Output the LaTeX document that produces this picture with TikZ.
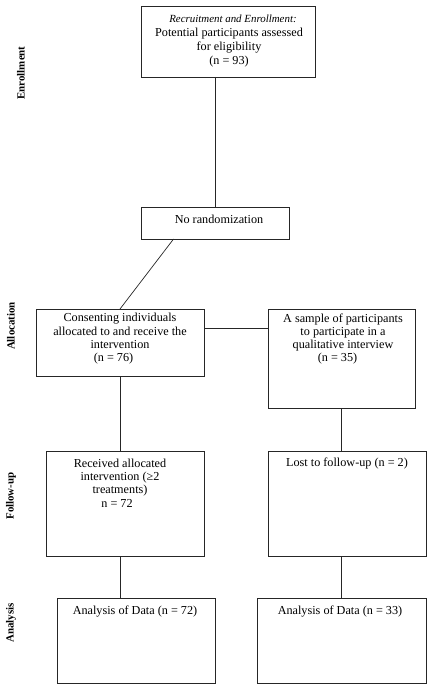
\documentclass[tikz,border=0pt]{standalone}
\usepackage{fontspec}
\setmainfont{Liberation Serif}
\usetikzlibrary{calc}
\tikzset{
  box/.style={draw=black!85, line width=0.7pt, rectangle, inner sep=0pt, outer sep=0pt, anchor=north west},
  txt/.style={align=center, inner sep=0pt, font=\fontsize{12.2}{13.3}\selectfont},
  itxt/.style={inner sep=0pt, font=\fontsize{10.9}{13}\selectfont\itshape},
  side/.style={rotate=90, inner sep=0pt, font=\fontsize{10.9}{13}\selectfont\bfseries},
  conn/.style={draw=black!85, line width=0.7pt}
}
\begin{document}
\begin{tikzpicture}[x=1pt,y=-1pt]
\useasboundingbox (0,0) rectangle (433,690);
% boxes
\node[box, minimum width=174pt, minimum height=71pt] (b1) at (141,6) {};
\node[box, minimum width=148pt, minimum height=32pt] (nr) at (141,207) {};
\node[box, minimum width=168pt, minimum height=67pt] (cons) at (36,309) {};
\node[box, minimum width=147pt, minimum height=99pt] (samp) at (268,309) {};
\node[box, minimum width=158pt, minimum height=105pt] (rec) at (46,451) {};
\node[box, minimum width=158pt, minimum height=105pt] (lost) at (268,451) {};
\node[box, minimum width=158pt, minimum height=85pt] (an1) at (57,598) {};
\node[box, minimum width=169pt, minimum height=85pt] (an2) at (257,598) {};
% texts
\node[itxt] (t1a) at (233,19) {Recruitment and Enrollment:};
\node[txt, font=\fontsize{12.2}{14}\selectfont] (t1b) at (229,48) {Potential participants assessed\\for eligibility\\(n = 93)};
\node[txt] (tnr) at (219,219) {No randomization};
\node[txt] (tcons) at (120,339) {Consenting individuals\\allocated to and receive the\\intervention\\(n = 76)\hspace*{13pt}};
\node[txt] (tsamp) at (343,339) {A sample of participants\\to participate in a\\qualitative interview\\(n = 35)\hspace*{11pt}};
\node[txt] (trec) at (120,483) {Received allocated\\intervention (≥2\\treatments)\\n = 72\hspace*{6pt}};
\node[txt] (tlost) at (347,463) {Lost to follow-up (n = 2)};
\node[txt] (tan1) at (135,612) {Analysis of Data (n = 72)};
\node[txt] (tan2) at (340,612) {Analysis of Data (n = 33)};
% side labels
\node[side] (s1) at (21,73) {Enrollment};
\node[side] (s2) at (11,326) {Allocation};
\node[side] (s3) at (11,496) {Follow-up};
\node[side] (s4) at (11,623) {Analysis};
% connectors
\draw[conn] (b1.south -| nr.north) -- (nr.north);
\coordinate (nrd) at ($(nr.south west)!0.22!(nr.south east)$);
\draw[conn] (nrd) -- (cons.north);
\coordinate (ch) at ($(cons.north east)+(0,19)$);
\draw[conn] (ch) -- (ch -| samp.west);
\draw[conn] (cons.south) -- (cons.south |- rec.north);
\draw[conn] (samp.south) -- (samp.south |- lost.north);
\draw[conn] (rec.south -| cons.south) -- (cons.south |- an1.north);
\draw[conn] (lost.south -| samp.south) -- (samp.south |- an2.north);
\end{tikzpicture}
\end{document}
